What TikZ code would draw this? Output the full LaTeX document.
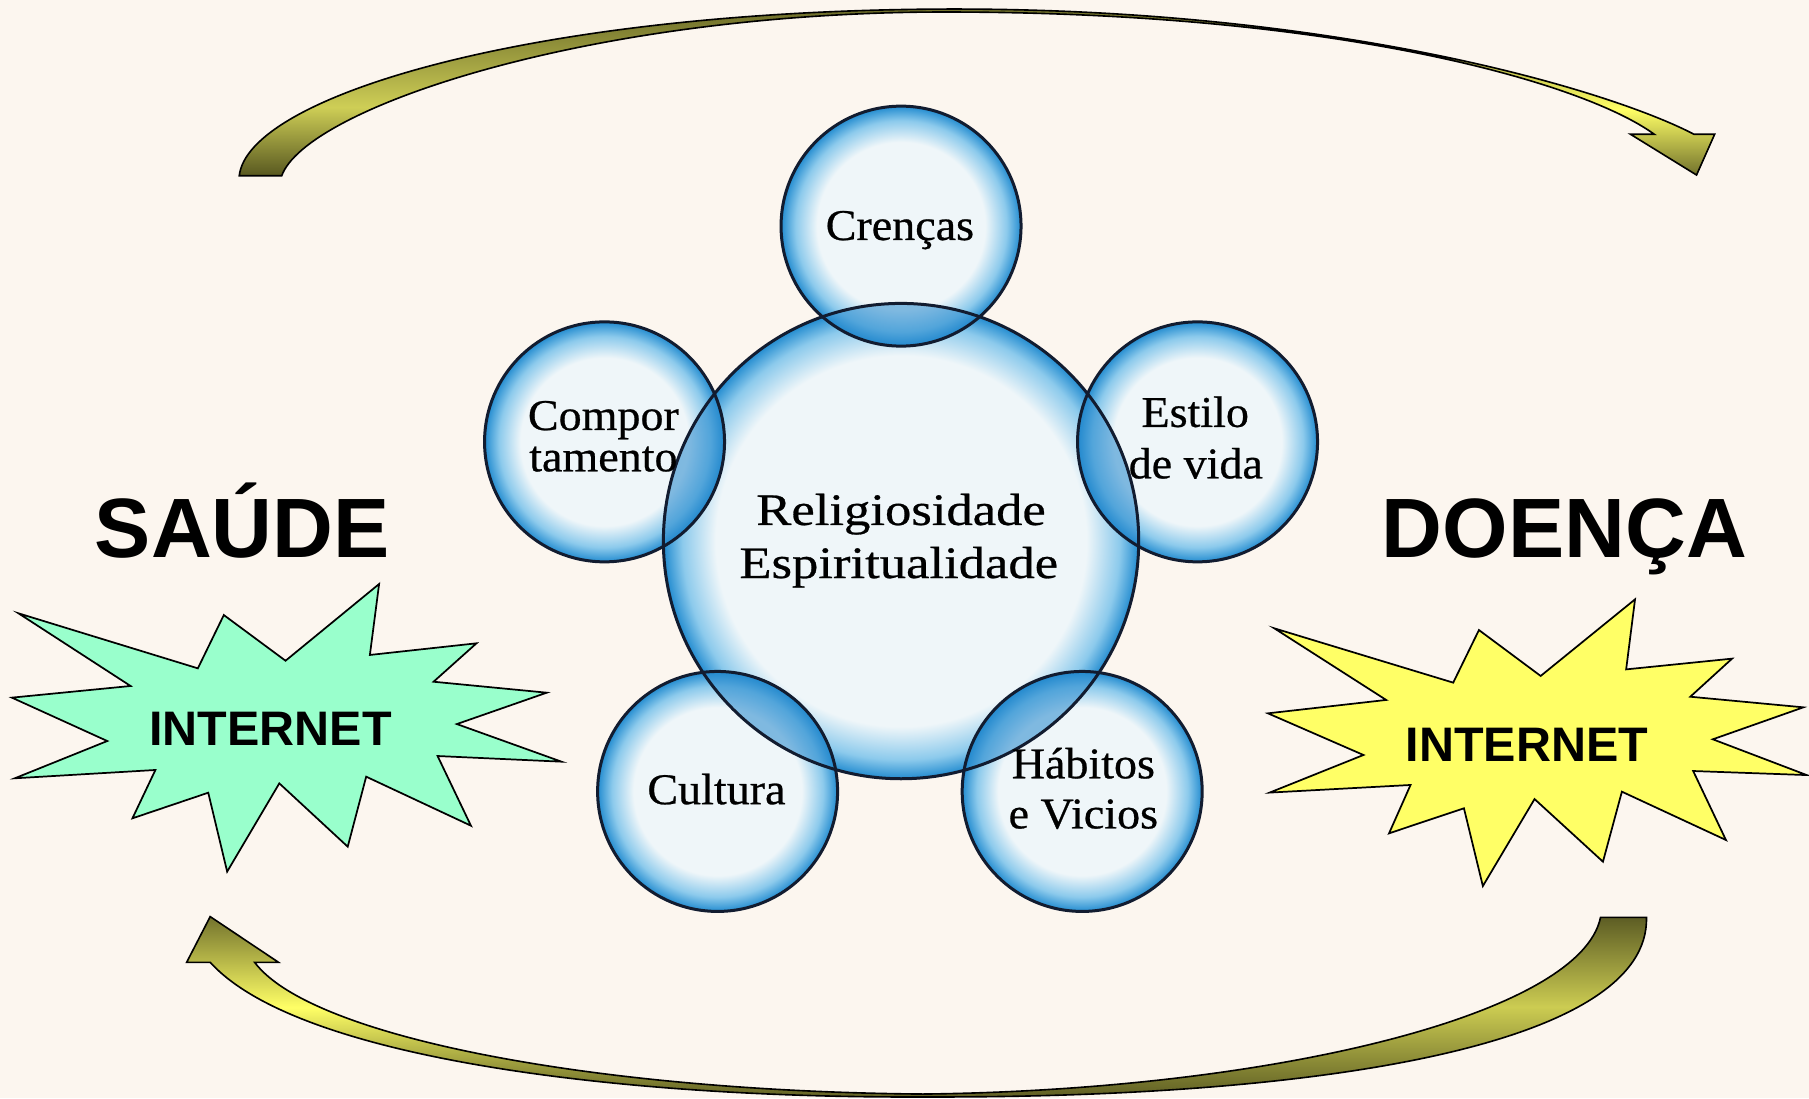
\documentclass[tikz,border=0pt]{standalone}
\usepackage{fontspec}
\setmainfont{Liberation Serif}
\newfontfamily\serifsmall[FakeStretch=1.05,FakeBold=0.6]{Liberation Serif}
\newfontfamily\serifwide[FakeStretch=1.17,FakeBold=0.6]{Liberation Serif}
\newfontfamily\headsans{Liberation Sans}
\definecolor{bgcol}{RGB}{252,246,239}
\definecolor{bubin}{RGB}{239,246,249}
\definecolor{bubmid}{RGB}{140,202,236}
\definecolor{bubedge}{RGB}{35,140,208}
\definecolor{bubline}{RGB}{18,28,48}
\definecolor{lenscol}{RGB}{35,135,205}
\definecolor{starGreen}{RGB}{153,255,204}
\definecolor{starYellow}{RGB}{255,255,102}
% arrow colours
\definecolor{aTLbot}{RGB}{88,88,32}
\definecolor{aTLmid}{RGB}{206,206,86}
\definecolor{aTLtop}{RGB}{105,105,40}
\definecolor{aTRbot}{RGB}{112,112,44}
\definecolor{aTRmid}{RGB}{255,255,102}
\definecolor{aTRtop}{RGB}{115,115,44}
\definecolor{aBLtop}{RGB}{115,115,45}
\definecolor{aBLmid}{RGB}{255,255,102}
\definecolor{aBLbot}{RGB}{95,95,36}
\definecolor{aBRtop}{RGB}{92,92,36}
\definecolor{aBRmid}{RGB}{204,204,82}
\definecolor{aBRbot}{RGB}{95,95,36}
\pgfdeclareverticalshading{arrTL}{100bp}{color(0bp)=(aTLbot); color(25bp)=(aTLbot); color(45bp)=(aTLmid); color(75bp)=(aTLtop); color(100bp)=(aTLtop)}
\pgfdeclareverticalshading{arrTR}{100bp}{color(0bp)=(aTRbot); color(25bp)=(aTRbot); color(45bp)=(aTRmid); color(75bp)=(aTRtop); color(100bp)=(aTRtop)}
\pgfdeclareverticalshading{arrBL}{100bp}{color(0bp)=(aBLbot); color(25bp)=(aBLbot); color(50bp)=(aBLmid); color(75bp)=(aBLtop); color(100bp)=(aBLtop)}
\pgfdeclareverticalshading{arrBR}{100bp}{color(0bp)=(aBRbot); color(25bp)=(aBRbot); color(50bp)=(aBRmid); color(75bp)=(aBRtop); color(100bp)=(aBRtop)}
\pgfdeclareradialshading{bubbleL}{\pgfpoint{0bp}{0bp}}{color(0bp)=(bubin); color(19.5bp)=(bubin); color(23bp)=(bubmid); color(25bp)=(bubedge); color(50bp)=(bubedge)}
\pgfdeclareradialshading{bubbleS}{\pgfpoint{0bp}{0bp}}{color(0bp)=(bubin); color(17.5bp)=(bubin); color(22bp)=(bubmid); color(25bp)=(bubedge); color(50bp)=(bubedge)}
\begin{document}
\begin{tikzpicture}[x=1pt,y=-1pt,
  bubtext/.style={anchor=base,font=\serifsmall\fontsize{38}{44}\selectfont,inner sep=0pt},
  bigtext/.style={anchor=base,font=\serifwide\fontsize{39}{46}\selectfont,inner sep=0pt},
  titletext/.style={anchor=base,font=\headsans\bfseries\fontsize{73}{80}\selectfont,inner sep=0pt},
  nettext/.style={anchor=base,font=\headsans\bfseries\fontsize{42}{48}\selectfont,inner sep=0pt},
  bubline/.style={draw=bubline,line width=2.6pt},
  lens/.style={fill=lenscol,fill opacity=0.55},
  arrowline/.style={draw=black,line width=1.4pt,line join=miter},
  starshape/.style={draw=black,line width=1.5pt,line join=miter}
]
\useasboundingbox (0,0) rectangle (1568,952);
\fill[bgcol] (0,0) rectangle (1568,952);

% curved arrows
\path[arrowline,fill=aTLmid,path picture={
    \shade[shading=arrTL] (150,8) rectangle (800,152.3);
    \shade[shading=arrTR] (800,8) rectangle (1490,152.3);}]
  (207.4,152.3) .. controls (215,85) and (450,12) .. (800,8)
  .. controls (1150,4) and (1395,78) .. (1468.3,116.4)
  -- (1486.2,116.4) -- (1470.5,151.7) -- (1413.3,116.4) -- (1433.9,116.4)
  .. controls (1370,70) and (1150,8) .. (800,10.5)
  .. controls (500,14) and (265,95) .. (244.2,152.3) -- cycle;

\path[arrowline,fill=aBLmid,path picture={
    \shade[shading=arrBL] (150,794.5) rectangle (800,951);
    \shade[shading=arrBR] (800,794.5) rectangle (1440,951);}]
  (182.2,794.5) -- (241.4,834.1) -- (220.7,834.1)
  .. controls (270,900) and (520,946) .. (800,948.3)
  .. controls (1100,945) and (1370,880) .. (1387.3,795.1)
  -- (1427.1,795.1)
  .. controls (1430,905) and (1150,952) .. (800,950.8)
  .. controls (550,952) and (260,920) .. (182.2,834.1)
  -- (161.8,834.1) -- cycle;

% stars
\filldraw[starshape,fill=starGreen] (16.0,531.6) -- (171.5,579.3) -- (194.0,533.1) -- (247.5,572.7) -- (328.6,506.2) -- (320.6,567.7) -- (413.0,557.6) -- (375.8,590.9) -- (473.9,600.4) -- (396.0,627.6) -- (486.7,660.2) -- (379.3,655.3) -- (408.2,715.7) -- (317.4,673.2) -- (301.4,733.9) -- (242.1,679.0) -- (196.9,755.5) -- (180.5,687.1) -- (114.8,709.3) -- (134.7,667.4) -- (12.8,674.6) -- (93.0,642.3) -- (10.3,604.7) -- (113.2,594.6) -- cycle;
\filldraw[starshape,fill=starYellow] (1104.5,544.6) -- (1259.6,591.7) -- (1281.9,546.1) -- (1335.4,585.9) -- (1417.2,519.5) -- (1409.5,580.2) -- (1501.3,570.9) -- (1465.1,603.9) -- (1563.1,613.1) -- (1484.6,640.8) -- (1566.0,671.8) -- (1467.6,668.3) -- (1496.0,728.1) -- (1405.8,686.2) -- (1389.4,746.9) -- (1330.1,692.6) -- (1285.3,768.0) -- (1268.9,700.6) -- (1204.0,722.3) -- (1222.6,680.4) -- (1100.5,687.0) -- (1181.8,654.4) -- (1099.0,618.3) -- (1201.5,606.7) -- cycle;

% bubble centres
\coordinate (rel) at (781,469);
\coordinate (cren) at (781,196);
\coordinate (comp) at (524,383);
\coordinate (est) at (1038,383);
\coordinate (cult) at (622,686);
\coordinate (hab) at (938,686);

% bubble fills
\shade[shading=bubbleL] (rel) circle[radius=206pt];
\foreach \c in {cren,comp,est,cult,hab}
  \shade[shading=bubbleS] (\c) circle[radius=104pt];
% overlaps
\begin{scope}
  \clip (rel) circle[radius=206pt];
  \foreach \c in {cren,comp,est,cult,hab}
    \fill[lens] (\c) circle[radius=104pt];
\end{scope}
% outlines
\draw[bubline] (rel) circle[radius=206pt];
\foreach \c in {cren,comp,est,cult,hab}
  \draw[bubline] (\c) circle[radius=104pt];

% texts
\node[bigtext] (tRel1) at (781,455) {Religiosidade};
\node[bigtext] (tRel2) at (779,501) {Espiritualidade};
\node[bubtext] (tCren) at (780,208) {Crenças};
\node[bubtext] (tComp1) at (523,372.7) {Compor};
\node[bubtext] (tComp2) at (523,408.5) {tamento};
\node[bubtext] (tEst1) at (1036,370) {Estilo};
\node[bubtext] (tEst2) at (1036.5,414.6) {de vida};
\node[bubtext] (tCult) at (621,697) {Cultura};
\node[bubtext] (tHab1) at (939,674.6) {Hábitos};
\node[bubtext] (tHab2) at (939,718) {e Vicios};

\node[titletext] (saude) at (210,483) {SAÚDE};
\node[titletext] (doenca) at (1356,483) {DOENÇA};
\node[nettext] (netL) at (234.5,646) {INTERNET};
\node[nettext] (netR) at (1323.5,660) {INTERNET};
\end{tikzpicture}
\end{document}
